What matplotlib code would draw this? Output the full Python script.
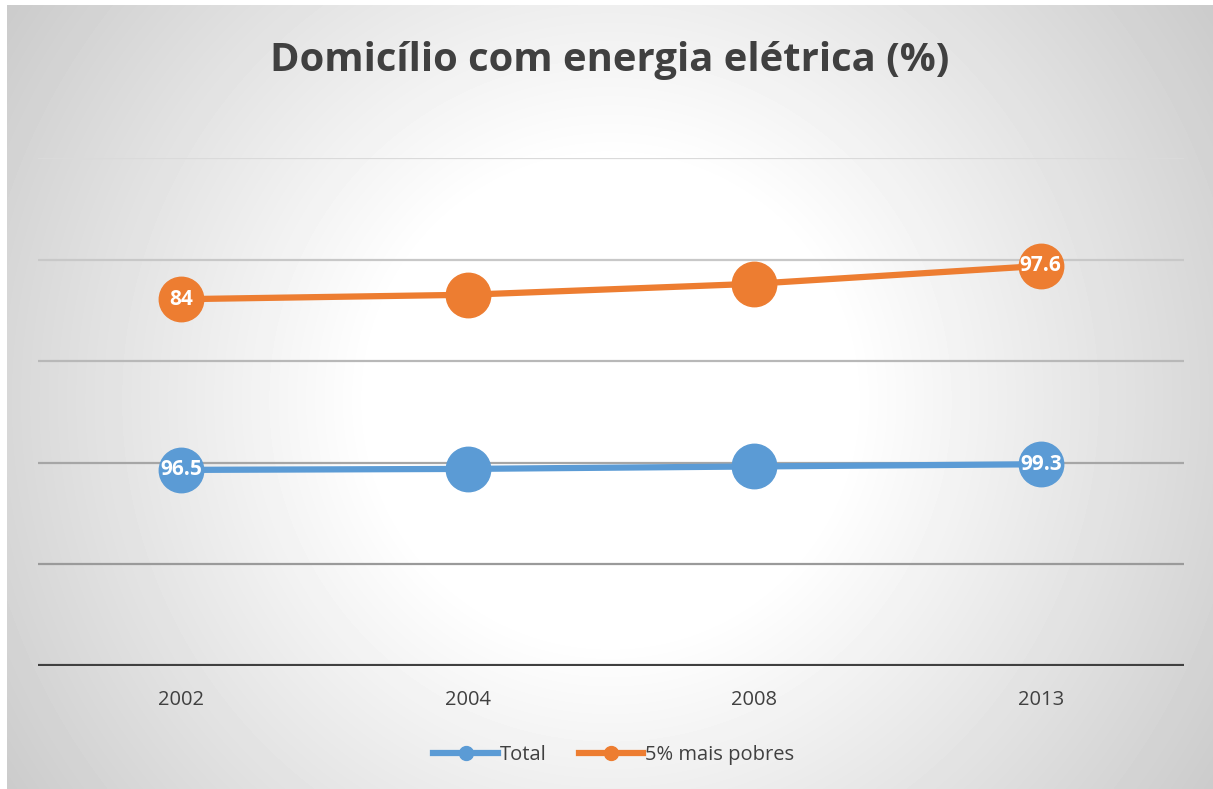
import numpy as np
import matplotlib.pyplot as plt

# dados
anos = ["2002", "2004", "2008", "2013"]
total = [96.5, 97.0, 98.2, 99.3]
pobres = [84.0, 85.7, 89.9, 97.6]
rotulos_total = ["96.5", "", "", "99.3"]
rotulos_pobres = ["84", "", "", "97.6"]

cor_total = "#5b9bd5"
cor_pobres = "#ed7d31"
cor_texto = "#404040"

W, H = 1213, 789
fig = plt.figure(figsize=(W / 100, H / 100), dpi=100)
fig.patch.set_facecolor("white")

# fundo com gradiente radial
bg = fig.add_axes([7 / W, 0, 1 - 7 / W, 1 - 5 / H], zorder=0)
yy, xx = np.mgrid[5:H, 7:W]
d = np.sqrt((xx - 610.0) ** 2 + (yy - 400.0) ** 2)
g = 1.0 - (52 / 255) * np.clip((d - 240) / 480, 0, 1)
bg.imshow(g, cmap="gray", vmin=0, vmax=1, aspect="auto", interpolation="bilinear")
bg.set_axis_off()

ax = fig.add_axes([38 / W, 1 - 666 / H, 1146 / W, 508 / H], zorder=1)
ax.patch.set_alpha(0)

x = np.arange(len(anos))
acum = np.array(total) + np.array(pobres)  # linhas empilhadas

# linhas de grade (mais claras em cima)
grade = {50: "#9a9a9a", 100: "#a6a6a6", 150: "#b8b8b8", 200: "#c8c8c8", 250: "#dadada"}
for v, c in grade.items():
    ax.axhline(v, color=c, lw=1.6, zorder=1)
ax.axhline(0, color="#404040", lw=3, zorder=2)

ax.plot(x, total, color=cor_total, lw=4.5, marker="o", markersize=32, zorder=3)
ax.plot(x, acum, color=cor_pobres, lw=4.5, marker="o", markersize=32, zorder=3)

for i in range(len(anos)):
    ax.text(x[i], total[i], rotulos_total[i], ha="center", va="center", color="white",
            fontsize=15, fontweight="bold", family="Open Sans", zorder=4)
    ax.text(x[i], acum[i], rotulos_pobres[i], ha="center", va="center", color="white",
            fontsize=15, fontweight="bold", family="Open Sans", zorder=4)

ax.set_xlim(-0.5, 3.5)
ax.set_ylim(0, 250)
ax.set_yticks([])
ax.set_xticks(x)
ax.set_xticklabels(anos, fontsize=14.5, color=cor_texto, family="Open Sans")
ax.tick_params(axis="x", length=0, pad=17)
for s in ax.spines.values():
    s.set_visible(False)

fig.text(610 / W, 1 - 61 / H, "Domicílio com energia elétrica (%)", ha="center", va="center",
         fontsize=28.8, fontweight="bold", color=cor_texto, family="Open Sans")

# legenda
h1, = ax.plot([], [], color=cor_total, lw=4.5, marker="o", markersize=10)
h2, = ax.plot([], [], color=cor_pobres, lw=4.5, marker="o", markersize=10)
fig.legend([h1, h2], ["Total", "5% mais pobres"], loc="center", bbox_to_anchor=(614 / W, 1 - 755 / H),
           ncol=2, frameon=False, handlelength=3.2, handletextpad=0.1, columnspacing=1.6,
           prop={"family": "Open Sans", "size": 14.5}, labelcolor=cor_texto)

fig.savefig("out.png", dpi=100)
